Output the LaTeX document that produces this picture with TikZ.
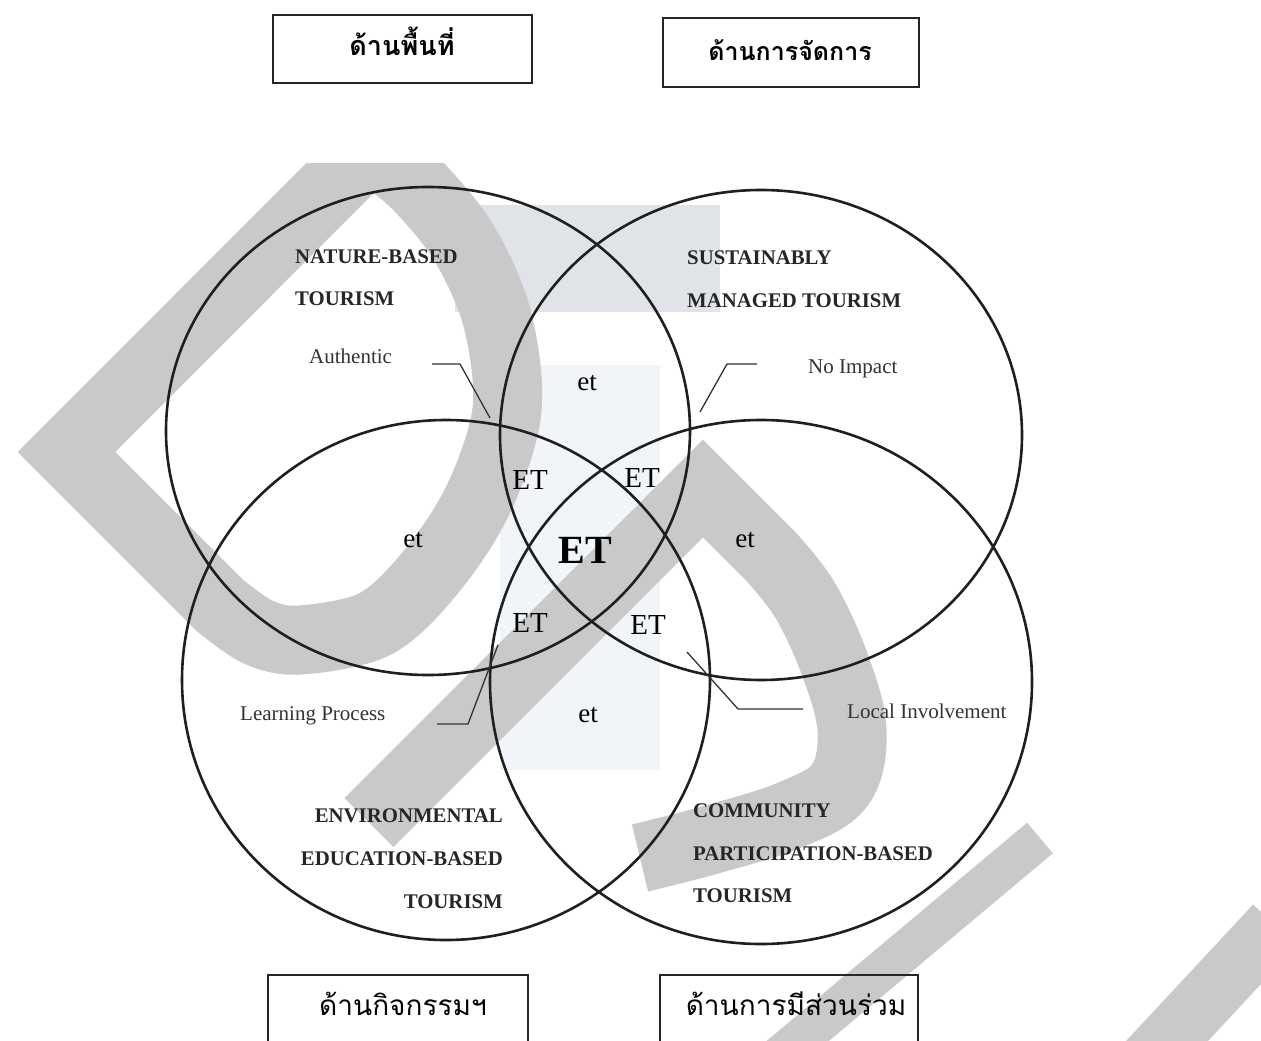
\documentclass[tikz,border=0pt]{standalone}
\usepackage{fontspec}
\setmainfont{Liberation Serif}
\newfontfamily\thaifont[Script=Thai]{Loma}
\definecolor{wmg}{RGB}{201,201,201}
\definecolor{paleA}{RGB}{224,228,233}
\definecolor{paleB}{RGB}{241,244,248}
\begin{document}
\begin{tikzpicture}[x=1pt,y=-1pt,
  circ/.style={draw=black!88, line width=2.6pt},
  lead/.style={draw=black!80, line width=1.3pt},
  bx/.style={draw=black!85, line width=1.8pt},
  wm/.style={draw=wmg, line width=69pt, line join=miter},
  bigl/.style={font=\fontsize{20.8}{24}\selectfont\bfseries, anchor=base west, inner sep=0pt, text=black!85},
  sml/.style={font=\fontsize{21}{24}\selectfont, anchor=base west, inner sep=0pt, text=black!80},
  etl/.style={font=\fontsize{27}{30}\selectfont, inner sep=0pt},
  ETl/.style={font=\fontsize{29}{32}\selectfont, inner sep=0pt},
  thb/.style={font=\thaifont\bfseries\fontsize{27}{32}\selectfont, anchor=base, inner sep=0pt},
  thr/.style={font=\thaifont\fontsize{28}{32}\selectfont, anchor=base, inner sep=0pt}
]
\useasboundingbox (0,0) rectangle (1261,1041);
\clip (0,0) rectangle (1261,1041);
\fill[white] (0,0) rectangle (1261,1041);
% faint background rectangles of the scan
\fill[paleA] (455,205) rectangle (720,312);
\fill[paleB] (500,365) rectangle (660,770);
% watermark
\begin{scope}
\clip (0,163) rectangle (1261,1041);
\draw[wm] (372,146) -- (66.5,452) -- (220,605.5)
  -- plot[smooth,tension=0.55] coordinates {(220,605.5) (258,632) (300,640) (375,624) (430,573) (478,500) (507,410) (497,318) (464,243) (420,188) (385,158)} -- cycle;
\end{scope}
\draw[wm] (369,822.5) -- (703,488.5) -- (770,555.5)
  -- plot[smooth,tension=0.6] coordinates {(770,555.5) (805,600) (835,665) (852,730) (840,785) (790,815) (710,840) (640,858)};
\draw[wm, line width=40pt] (775,1060) -- (1040,838);
\draw[wm, line width=60pt] (1140,1070) -- (1275,925);
% circles
\draw[circ] (428,431) ellipse [x radius=262, y radius=244];
\draw[circ] (761,435) ellipse [x radius=261, y radius=245];
\draw[circ] (446,680) ellipse [x radius=264, y radius=260];
\draw[circ] (761,682) ellipse [x radius=271, y radius=262];
% boxes
\node[bx, minimum width=259pt, minimum height=68pt, inner sep=0pt] (b1) at (402.5,49) {};
\node[bx, minimum width=256pt, minimum height=69pt, inner sep=0pt] (b2) at (791,52.5) {};
\node[bx, minimum width=260pt, minimum height=90pt, inner sep=0pt] (b3) at (398,1020) {};
\node[bx, minimum width=258pt, minimum height=90pt, inner sep=0pt] (b4) at (789,1020) {};
\node[thb] (t1) at (402,56) {ด้านพื้นที่};
\node[thb, font=\thaifont\bfseries\fontsize{25}{30}\selectfont] (t2) at (790,60) {ด้านการจัดการ};
\node[thr] (t3) at (403,1015) {ด้านกิจกรรมฯ};
\node[thr] (t4) at (796,1015) {ด้านการมีส่วนร่วม};
% circle titles
\node[bigl] (n1) at (295,263) {NATURE-BASED};
\node[bigl] (n2) at (295,305) {TOURISM};
\node[bigl] (s1) at (687,264) {SUSTAINABLY};
\node[bigl] (s2) at (687,307) {MANAGED TOURISM};
\node[bigl, anchor=base east] (e1) at (503,822) {ENVIRONMENTAL};
\node[bigl, anchor=base east] (e2) at (503,865) {EDUCATION-BASED};
\node[bigl, anchor=base east] (e3) at (503,908) {TOURISM};
\node[bigl] (c1) at (693,817) {COMMUNITY};
\node[bigl] (c2) at (693,860) {PARTICIPATION-BASED};
\node[bigl] (c3) at (693,902) {TOURISM};
% small labels
\node[sml] (a1) at (309,363) {Authentic};
\node[sml] (a2) at (808,373) {No Impact};
\node[sml] (a3) at (240,720) {Learning Process};
\node[sml] (a4) at (847,718) {Local Involvement};
% leader lines
\coordinate (la0) at (432,364); \coordinate (la1) at (460,364); \coordinate (la2) at (490,418);
\coordinate (lb0) at (757,364); \coordinate (lb1) at (727,364); \coordinate (lb2) at (700,412);
\coordinate (lc0) at (437,724); \coordinate (lc1) at (468,724); \coordinate (lc2) at (498,645);
\coordinate (ld0) at (803,709); \coordinate (ld1) at (738,709); \coordinate (ld2) at (687,652);
\draw[lead] (la0) -- (la1) -- (la2);
\draw[lead] (lb0) -- (lb1) -- (lb2);
\draw[lead] (lc0) -- (lc1) -- (lc2);
\draw[lead] (ld0) -- (ld1) -- (ld2);
% et / ET
\node[etl] (x1) at (587,383) {et};
\node[etl] (x2) at (413,540) {et};
\node[etl] (x3) at (745,540) {et};
\node[etl] (x4) at (588,715) {et};
\node[ETl] (y1) at (530,480) {ET};
\node[ETl] (y2) at (642,478) {ET};
\node[ETl] (y3) at (530,623) {ET};
\node[ETl] (y4) at (648,625) {ET};
\node[font=\fontsize{40}{44}\selectfont\bfseries, inner sep=0pt] (yc) at (585,550) {ET};
\end{tikzpicture}
\end{document}
